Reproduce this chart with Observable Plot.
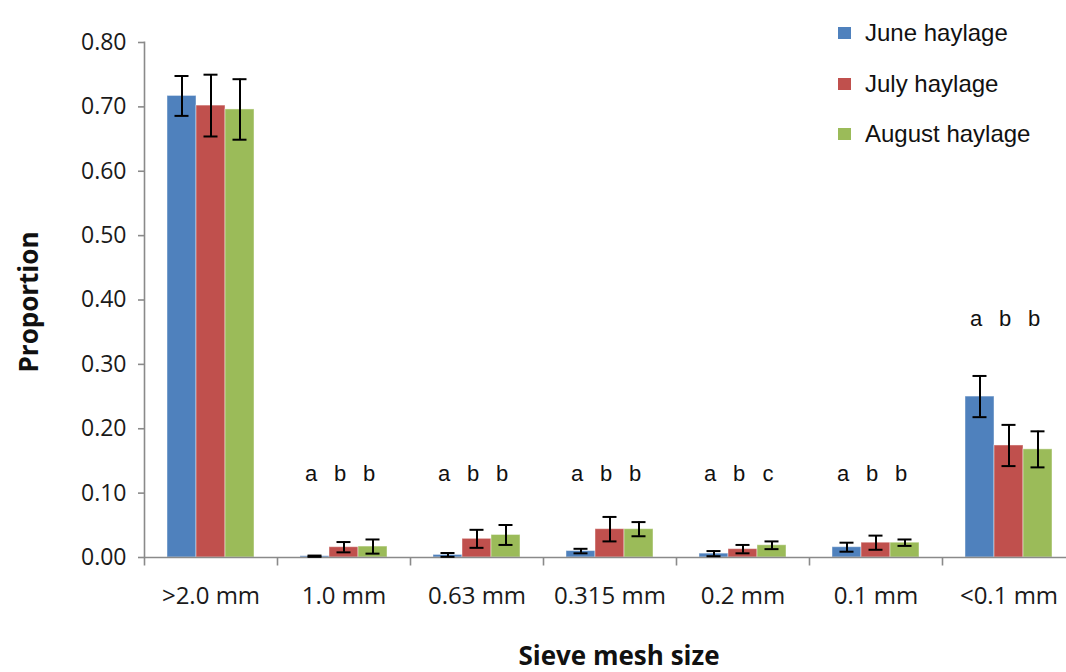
<!DOCTYPE html>
<html>
<head>
<meta charset="utf-8">
<script src="https://cdn.jsdelivr.net/npm/d3@7"></script>
<script src="https://cdn.jsdelivr.net/npm/@observablehq/plot@0.6"></script>
<style>
  html, body { margin: 0; padding: 0; background: #fff; overflow: hidden; }
  #wrap { position: relative; width: 1066px; height: 672px; }
  #chart svg { display: block; }
  .ytitle { position: absolute; left: 28px; top: 302px; transform: translate(-50%, -50%) rotate(-90deg);
    font: bold 26px "Open Sans", sans-serif; line-height: 1; color: #111; white-space: nowrap; }
  .xtitle { position: absolute; left: 619px; top: 655px; transform: translate(-50%, -50%);
    font: bold 26px "Open Sans", sans-serif; line-height: 1; color: #111; white-space: nowrap; }
  .legend { position: absolute; left: 838px; top: 8px; font: 24px "Liberation Sans", Arial, sans-serif; color: #111; }
  .legend .row { display: flex; align-items: center; height: 50.5px; }
  .legend .sw { width: 13px; height: 12px; margin-right: 14px; }
</style>
</head>
<body>
<div id="wrap">
  <div id="chart"></div>
  <div class="ytitle">Proportion</div>
  <div class="xtitle">Sieve mesh size</div>
  <div class="legend" id="legend"></div>
</div>
<script>
const categories = [">2.0 mm", "1.0 mm", "0.63 mm", "0.315 mm", "0.2 mm", "0.1 mm", "<0.1 mm"];
const seriesNames = ["June haylage", "July haylage", "August haylage"];
const seriesColors = ["#4F81BD", "#C0504D", "#9BBB59"];

const juneValues   = [0.717, 0.002, 0.004, 0.010, 0.006, 0.016, 0.250];
const juneErrors   = [0.031, 0.001, 0.003, 0.0035, 0.004, 0.007, 0.032];
const julyValues   = [0.702, 0.016, 0.029, 0.044, 0.013, 0.023, 0.174];
const julyErrors   = [0.048, 0.008, 0.014, 0.019, 0.0065, 0.011, 0.032];
const augustValues = [0.696, 0.017, 0.035, 0.044, 0.019, 0.023, 0.168];
const augustErrors = [0.047, 0.011, 0.0155, 0.011, 0.006, 0.005, 0.028];

const juneLetters   = ["", "a", "a", "a", "a", "a", "a"];
const julyLetters   = ["", "b", "b", "b", "b", "b", "b"];
const augustLetters = ["", "b", "b", "b", "c", "b", "b"];

const yTicks = [0, 0.1, 0.2, 0.3, 0.4, 0.5, 0.6, 0.7, 0.8];

const seriesValues = [juneValues, julyValues, augustValues];
const seriesErrors = [juneErrors, julyErrors, augustErrors];
const seriesLetters = [juneLetters, julyLetters, augustLetters];

const rows = [];
categories.forEach((c, i) => {
  seriesNames.forEach((s, j) => {
    rows.push({category: c, series: s, value: seriesValues[j][i], err: seriesErrors[j][i], letter: seriesLetters[j][i]});
  });
});
// significance letters: fixed row for the small groups, above the error bars for the tall one
const groupTop = new Map(categories.map(c => [c, d3.max(rows.filter(r => r.category === c), r => r.value + r.err)]));
const letterRows = rows.filter(r => r.letter).map(r => {
  const top = groupTop.get(r.category);
  return {...r, ly: top > 0.1 ? top + 0.088 : 0.13};
});

const W = 1066, H = 672, mTop = 42, mBottom = 115, mLeft = 142, mRight = -10;
const frameH = H - mTop - mBottom;

const tickSymbol = { draw(ctx) { ctx.moveTo(0, 0); ctx.lineTo(0, 8); } };
const axisLineSymbol = { draw(ctx) { ctx.moveTo(0, -frameH / 2 - 1); ctx.lineTo(0, frameH / 2); } };

const chart = Plot.plot({
  width: W,
  height: H,
  marginLeft: mLeft,
  marginRight: mRight,
  marginTop: mTop,
  marginBottom: mBottom,
  style: { fontFamily: "'Open Sans', sans-serif", background: "white", color: "#222" },
  fx: { domain: categories, padding: 0, label: null },
  x: { domain: seriesNames, paddingInner: 0, paddingOuter: 0.725, axis: null },
  y: { domain: [0, 0.8], label: null },
  color: { domain: seriesNames, range: seriesColors },
  marks: [
    Plot.axisY({ ticks: yTicks, tickFormat: d3.format(".2f"), tickSize: 6, tickPadding: 12, stroke: "#8a8a8a", strokeWidth: 1.6, fill: "#1a1a1a", fontSize: 23, label: null }),
    Plot.axisFx({ anchor: "bottom", tickSize: 0, tickPadding: 29, fontSize: 24, fill: "#1a1a1a", label: null }),
    Plot.barY(rows, { fx: "category", x: "series", y: "value", fill: "series", stroke: "#ffffff", strokeOpacity: 0.45, strokeWidth: 1 }),
    Plot.ruleY([0], { stroke: "#8a8a8a", strokeWidth: 1.6 }),
    Plot.dot([categories[0]], { fx: d => d, frameAnchor: "left", symbol: axisLineSymbol, fill: "none", stroke: "#8a8a8a", strokeWidth: 1.6 }),
    Plot.dot([0], { frameAnchor: "bottom-left", symbol: tickSymbol, fill: "none", stroke: "#8a8a8a", strokeWidth: 1.6 }),
    Plot.ruleX(rows, { fx: "category", x: "series", y1: d => d.value - d.err, y2: d => d.value + d.err, stroke: "black", strokeWidth: 2 }),
    Plot.tickY(rows, { fx: "category", x: "series", y: d => d.value - d.err, stroke: "black", strokeWidth: 2, insetLeft: 7.5, insetRight: 7.5 }),
    Plot.tickY(rows, { fx: "category", x: "series", y: d => d.value + d.err, stroke: "black", strokeWidth: 2, insetLeft: 7.5, insetRight: 7.5 }),
    Plot.text(letterRows, { fx: "category", x: "series", y: "ly", text: "letter", dx: -4, fontSize: 22, fontFamily: "'Liberation Sans', Arial, sans-serif", fill: "#111" })
  ]
});
document.getElementById("chart").appendChild(chart);

const legend = document.getElementById("legend");
seriesNames.forEach((s, i) => {
  const row = document.createElement("div");
  row.className = "row";
  const sw = document.createElement("span");
  sw.className = "sw";
  sw.style.background = seriesColors[i];
  const t = document.createElement("span");
  t.textContent = s;
  row.appendChild(sw);
  row.appendChild(t);
  legend.appendChild(row);
});
</script>
</body>
</html>
